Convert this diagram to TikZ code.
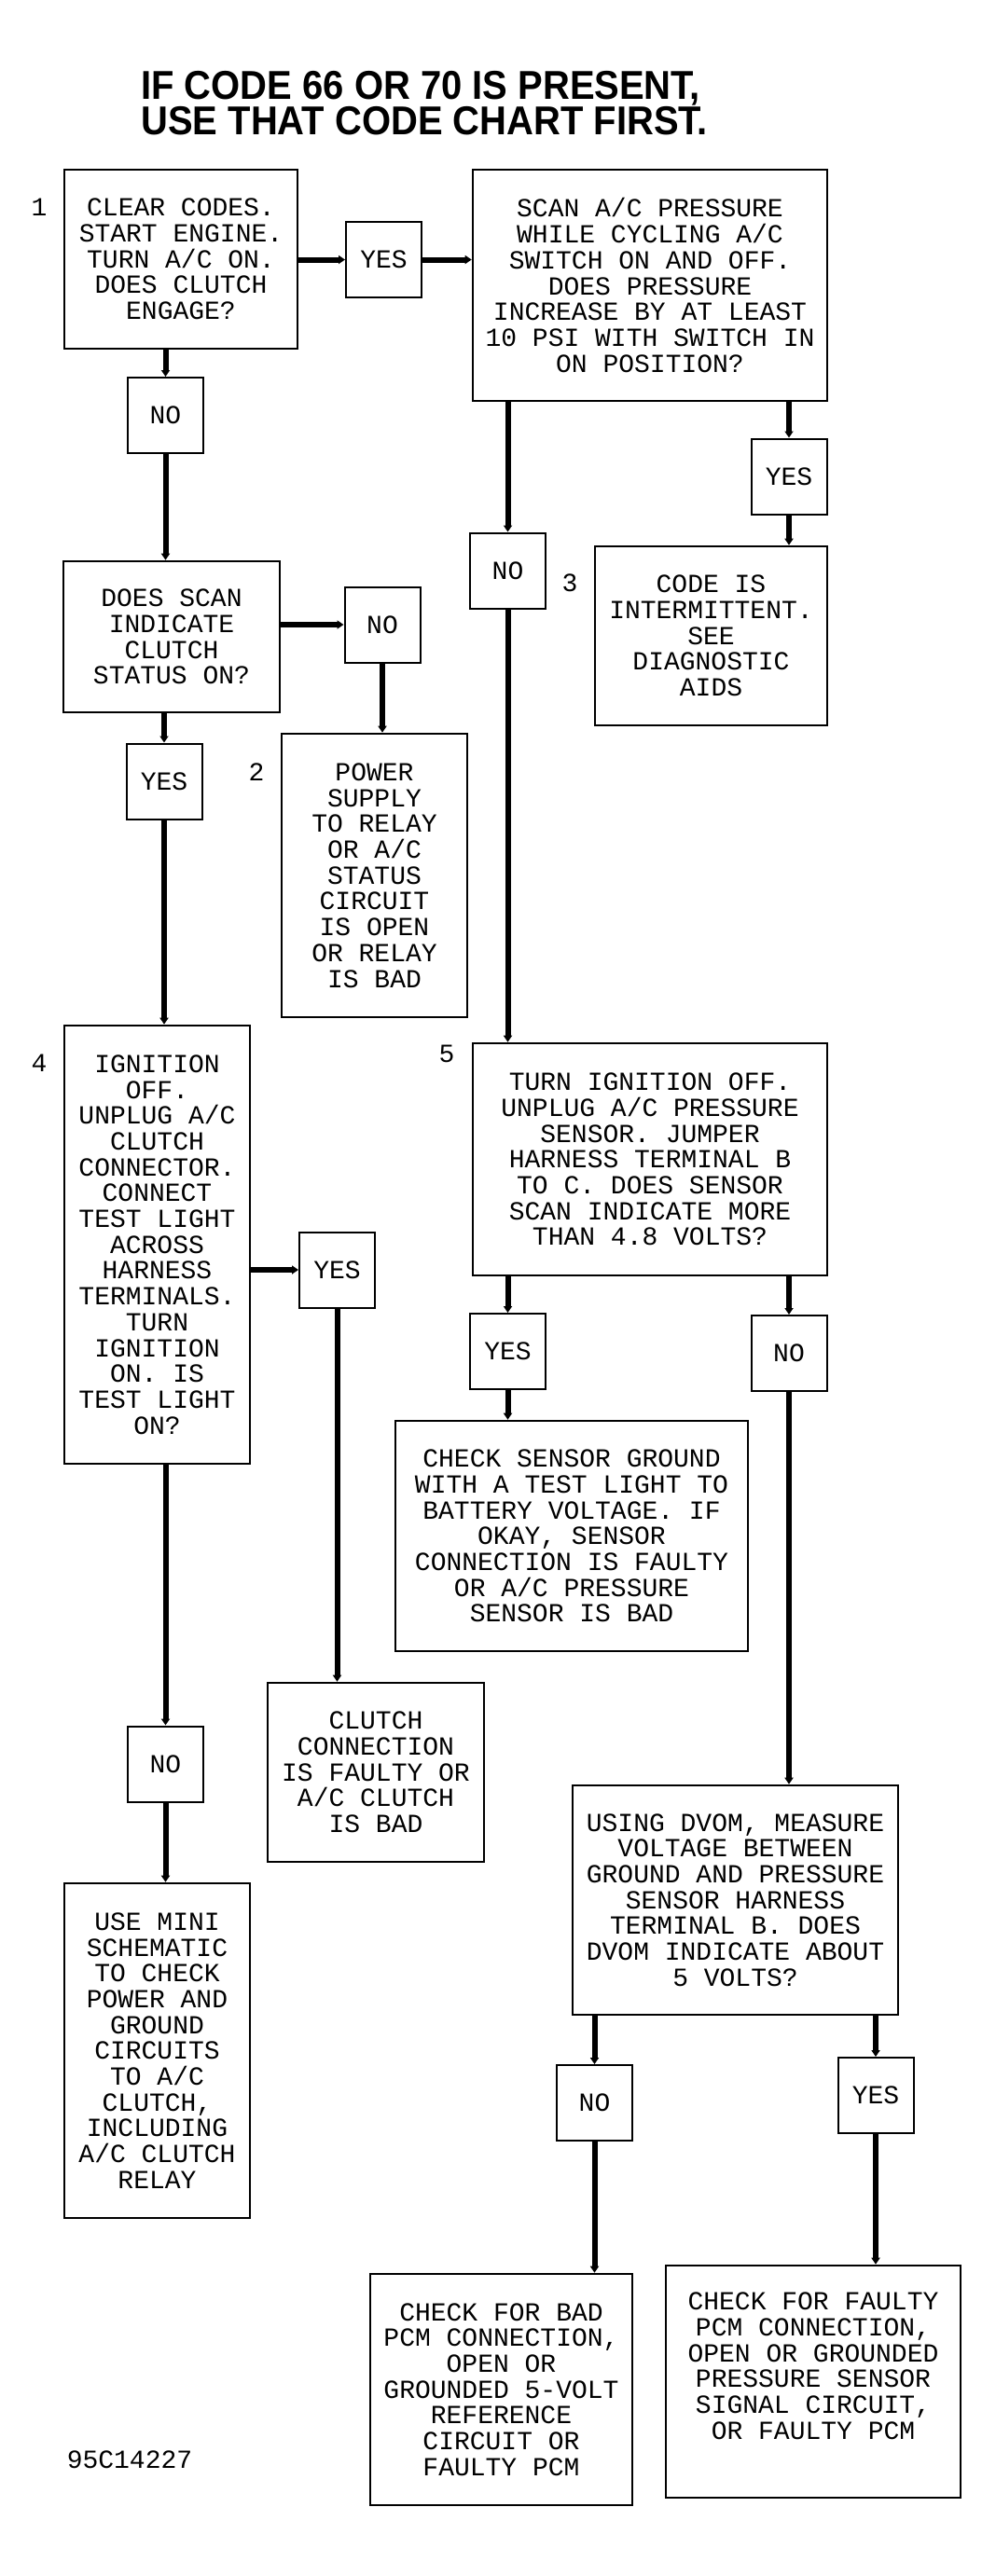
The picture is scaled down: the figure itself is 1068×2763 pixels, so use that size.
\documentclass[tikz,border=0pt]{standalone}
\usepackage{fontspec}
\usetikzlibrary{arrows.meta}
\newfontfamily\chartfont{Liberation Mono}
\newfontfamily\titlefont[FakeStretch=0.925]{Liberation Sans}

\begin{document}
\begin{tikzpicture}[x=0.5pt, y=-0.5pt]

% Styles
\tikzset{
  chartbox/.style={draw, line width=1.3pt, align=center, inner sep=2pt,
    font=\chartfont\fontsize{14}{13.85}\selectfont},
  answer/.style={chartbox, line width=1pt, minimum width=40.5pt, minimum height=40.5pt},
  flow/.style={line width=3pt, -{Triangle[length=3.5pt,width=4.5pt]}},
  stepnum/.style={font=\chartfont\fontsize{14}{14}\selectfont, inner sep=0pt}
}

% Page
\fill[white] (0,0) rectangle (1068,2763);
\useasboundingbox (0,0) rectangle (1068,2763);

% Heading
\node[anchor=north west, inner sep=0pt, align=left,
  font=\titlefont\bfseries\fontsize{21.6}{19}\selectfont] (title) at (151,76)
  {IF CODE 66 OR 70 IS PRESENT,\\USE THAT CODE CHART FIRST.};

% Step 1 and pressure check
\node[chartbox, minimum width=125pt, minimum height=96pt] (clear) at (194,278)
  {CLEAR CODES.\\START ENGINE.\\TURN A/C ON.\\DOES CLUTCH\\ENGAGE?};
\node[answer] (yes1) at (411.5,278.5) {YES};
\node[chartbox, minimum width=190pt, minimum height=124pt] (scanpr) at (697,306)
  {SCAN A/C PRESSURE\\WHILE CYCLING A/C\\SWITCH ON AND OFF.\\DOES PRESSURE\\INCREASE BY AT LEAST\\10 PSI WITH SWITCH IN\\ON POSITION?};
\node[answer] (no1) at (177.5,445.5) {NO};
\node[answer] (noA) at (544.5,612) {NO};
\node[answer] (yesA) at (846,511) {YES};
\node[chartbox, minimum width=124.5pt, minimum height=96pt] (interm) at (762.5,682)
  {CODE IS\\INTERMITTENT.\\SEE\\DIAGNOSTIC\\AIDS};

% Clutch status
\node[chartbox, minimum width=116pt, minimum height=81pt] (scan) at (184,683)
  {DOES SCAN\\INDICATE\\CLUTCH\\STATUS ON?};
\node[answer] (no2) at (410,670) {NO};
\node[answer] (yes2) at (176,838) {YES};
\node[chartbox, minimum width=99.5pt, minimum height=152pt] (power) at (401.5,939)
  {POWER\\SUPPLY\\TO RELAY\\OR A/C\\STATUS\\CIRCUIT\\IS OPEN\\OR RELAY\\IS BAD};

% Step 4
\node[chartbox, minimum width=99.5pt, minimum height=235pt] (ignition) at (168.5,1335)
  {IGNITION\\OFF.\\UNPLUG A/C\\CLUTCH\\CONNECTOR.\\CONNECT\\TEST LIGHT\\ACROSS\\HARNESS\\TERMINALS.\\TURN\\IGNITION\\ON. IS\\TEST LIGHT\\ON?};
\node[answer] (yes4) at (361.5,1362) {YES};
\node[chartbox, minimum width=116pt, minimum height=96pt] (clutchbad) at (403,1901)
  {CLUTCH\\CONNECTION\\IS FAULTY OR\\A/C CLUTCH\\IS BAD};
\node[answer] (no4) at (177.5,1892) {NO};
\node[chartbox, minimum width=99.5pt, minimum height=179.5pt] (mini) at (168.5,2199.5)
  {USE MINI\\SCHEMATIC\\TO CHECK\\POWER AND\\GROUND\\CIRCUITS\\TO A/C\\CLUTCH,\\INCLUDING\\A/C CLUTCH\\RELAY};

% Step 5
\node[chartbox, minimum width=190pt, minimum height=124.5pt] (jumper) at (697,1243.5)
  {TURN IGNITION OFF.\\UNPLUG A/C PRESSURE\\SENSOR. JUMPER\\HARNESS TERMINAL B\\TO C. DOES SENSOR\\SCAN INDICATE MORE\\THAN 4.8 VOLTS?};
\node[answer] (yes5) at (544.5,1449.5) {YES};
\node[answer] (no5) at (846,1451.5) {NO};
\node[chartbox, minimum width=189pt, minimum height=123.5pt] (ground) at (613,1647.5)
  {CHECK SENSOR GROUND\\WITH A TEST LIGHT TO\\BATTERY VOLTAGE. IF\\OKAY, SENSOR\\CONNECTION IS FAULTY\\OR A/C PRESSURE\\SENSOR IS BAD};
\node[chartbox, minimum width=174.5pt, minimum height=123pt] (dvom) at (788.5,2038)
  {USING DVOM, MEASURE\\VOLTAGE BETWEEN\\GROUND AND PRESSURE\\SENSOR HARNESS\\TERMINAL B. DOES\\DVOM INDICATE ABOUT\\5 VOLTS?};
\node[answer] (no6) at (637.5,2255.5) {NO};
\node[answer] (yes6) at (939,2247.5) {YES};
\node[chartbox, minimum width=140.5pt, minimum height=124pt] (badpcm) at (537.5,2563)
  {CHECK FOR BAD\\PCM CONNECTION,\\OPEN OR\\GROUNDED 5-VOLT\\REFERENCE\\CIRCUIT OR\\FAULTY PCM};
\node[chartbox, minimum width=158pt, minimum height=124.5pt, text depth=17pt] (faulty) at (872,2554.5)
  {CHECK FOR FAULTY\\PCM CONNECTION,\\OPEN OR GROUNDED\\PRESSURE SENSOR\\SIGNAL CIRCUIT,\\OR FAULTY PCM};

% Step numbers and figure code
\node[stepnum] (num1) at (42,222) {1};
\node[stepnum] (num2) at (275,828) {2};
\node[stepnum] (num3) at (611,625) {3};
\node[stepnum] (num4) at (42,1140) {4};
\node[stepnum] (num5) at (479,1130) {5};
\node[stepnum] (figcode) at (139,2638) {95C14227};

% Connectors
\draw[flow] (yes1.west -| clear.east) -- (yes1.west);
\draw[flow] (yes1.east) -- (yes1.east -| scanpr.west);
\draw[flow] (no1.north |- clear.south) -- (no1.north);
\draw[flow] (no1.south) -- (no1.south |- scan.north);
\draw[flow] (no2.west -| scan.east) -- (no2.west);
\draw[flow] (no2.south) -- (no2.south |- power.north);
\draw[flow] (yes2.north |- scan.south) -- (yes2.north);
\draw[flow] (yes2.south) -- (yes2.south |- ignition.north);
\draw[flow] (noA.north |- scanpr.south) -- (noA.north);
\draw[flow] (noA.south) -- (noA.south |- jumper.north);
\draw[flow] (yesA.north |- scanpr.south) -- (yesA.north);
\draw[flow] (yesA.south) -- (yesA.south |- interm.north);
\draw[flow] (yes4.west -| ignition.east) -- (yes4.west);
\draw[flow] (yes4.south) -- (yes4.south |- clutchbad.north);
\draw[flow] (no4.north |- ignition.south) -- (no4.north);
\draw[flow] (no4.south) -- (no4.south |- mini.north);
\draw[flow] (yes5.north |- jumper.south) -- (yes5.north);
\draw[flow] (yes5.south) -- (yes5.south |- ground.north);
\draw[flow] (no5.north |- jumper.south) -- (no5.north);
\draw[flow] (no5.south) -- (no5.south |- dvom.north);
\draw[flow] (no6.north |- dvom.south) -- (no6.north);
\draw[flow] (no6.south) -- (no6.south |- badpcm.north);
\draw[flow] (yes6.north |- dvom.south) -- (yes6.north);
\draw[flow] (yes6.south) -- (yes6.south |- faulty.north);

\end{tikzpicture}
\end{document}
